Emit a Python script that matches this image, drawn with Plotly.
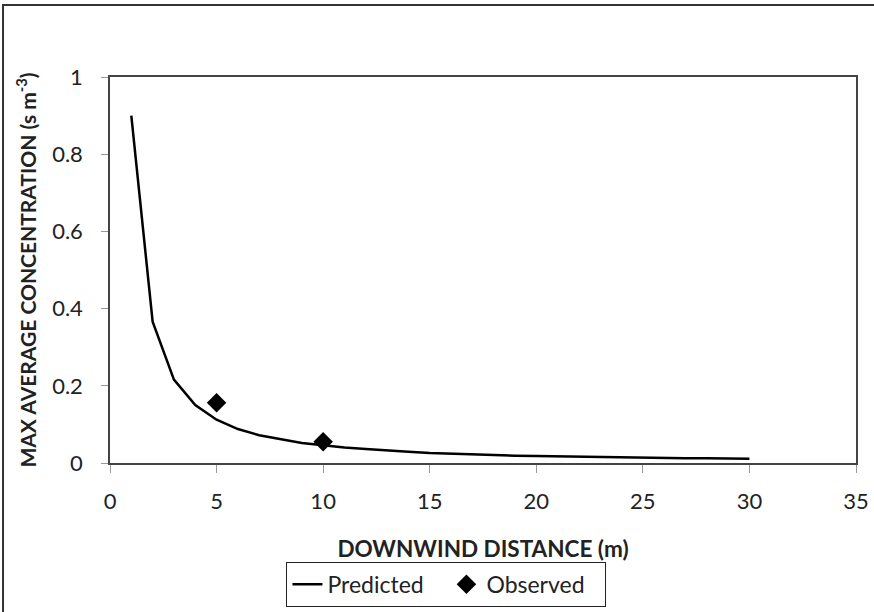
import plotly.graph_objects as go

distance = list(range(1, 31))
predicted = [0.900, 0.366, 0.216, 0.150, 0.112, 0.088, 0.072, 0.061, 0.052, 0.046,
             0.040, 0.036, 0.032, 0.029, 0.026, 0.024, 0.022, 0.021, 0.019, 0.018,
             0.017, 0.016, 0.015, 0.014, 0.014, 0.013, 0.012, 0.012, 0.011, 0.011]
obs_distance = [5, 10]
observed = [0.156, 0.055]

FONT = "Lato"

fig = go.Figure()
fig.add_trace(go.Scatter(x=distance, y=predicted, mode="lines", name="Predicted",
                         line=dict(color="black", width=2.5)))
fig.add_trace(go.Scatter(x=obs_distance, y=observed, mode="markers", name="Observed",
                         marker=dict(symbol="diamond", size=15, color="black")))

fig.update_layout(
    width=874, height=612,
    margin=dict(l=110, r=18, t=77, b=149),
    paper_bgcolor="white", plot_bgcolor="white",
    font=dict(family=FONT, size=22, color="#222"),
    showlegend=True,
    legend=dict(orientation="h", x=0.451, xanchor="center",
                yref="container", y=0.082, yanchor="top",
                bordercolor="#222", borderwidth=1, font=dict(size=23),
                itemwidth=30, tracegroupgap=0, entrywidth=114, entrywidthmode="pixels"),
    xaxis=dict(range=[0, 35], tickvals=[0, 5, 10, 15, 20, 25, 30, 35],
               showgrid=False, zeroline=False, showline=True, linecolor="#444",
               linewidth=1.5, mirror=True, ticks="outside", ticklen=8,
               tickcolor="#999", tickwidth=1, ticklabelstandoff=10,
               tickfont=dict(size=22), automargin=False,
               title=dict(text="<b>DOWNWIND DISTANCE (m)</b>", font=dict(size=22.5), standoff=28)),
    yaxis=dict(range=[0, 1], tickvals=[0, 0.2, 0.4, 0.6, 0.8, 1],
               ticktext=["0", "0.2", "0.4", "0.6", "0.8", "1"],
               showgrid=False, zeroline=False, showline=True, linecolor="#444",
               linewidth=1.5, mirror=True, ticks="outside", ticklen=7,
               tickcolor="#999", tickwidth=1, ticklabelstandoff=14,
               tickfont=dict(size=22), automargin=False,
               title=dict(text="<b>MAX AVERAGE CONCENTRATION (s m<sup>-3</sup>)</b>",
                          font=dict(size=21), standoff=10)),
    shapes=[dict(type="rect", xref="paper", yref="paper",
                 x0=-0.1434, x1=1.05, y0=-0.5, y1=1.1865,
                 line=dict(color="#333", width=2), fillcolor="rgba(0,0,0,0)")],
)

fig.write_html("out.html")
